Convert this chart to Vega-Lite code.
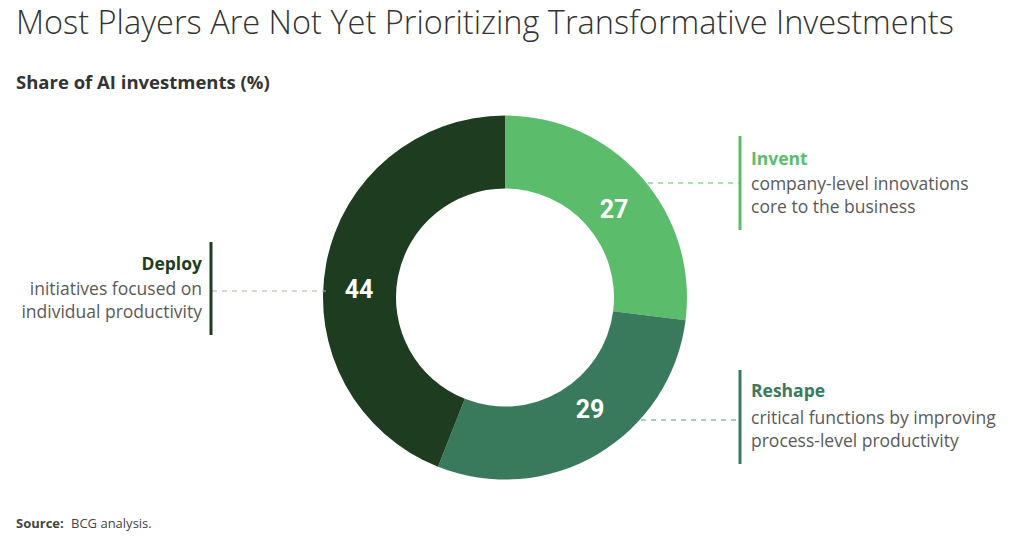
{
  "$schema": "https://vega.github.io/schema/vega-lite/v6.json",
  "width": 1024,
  "height": 559,
  "autosize": {"type": "fit", "contains": "padding"},
  "padding": 0,
  "background": "white",
  "config": {"view": {"stroke": null}, "text": {"font": "Open Sans"}},
  "datasets": {
    "segments": [
      {"segment": "Invent", "value": 27, "idx": 1, "desc": "company-level innovations\ncore to the business"},
      {"segment": "Reshape", "value": 29, "idx": 2, "desc": "critical functions by improving\nprocess-level productivity"},
      {"segment": "Deploy", "value": 44, "idx": 3, "desc": "initiatives focused on\nindividual productivity"}
    ],
    "heading": [
      {"title": "Most Players Are Not Yet Prioritizing Transformative Investments", "subtitle": "Share of AI investments (%)", "sourceLabel": "Source:", "source": "BCG analysis."}
    ]
  },
  "layer": [
    {
      "data": {"name": "segments"},
      "mark": {"type": "arc", "outerRadius": 182, "innerRadius": 109},
      "encoding": {
        "theta": {"field": "value", "type": "quantitative", "stack": true},
        "order": {"field": "idx", "type": "quantitative"},
        "color": {"field": "segment", "type": "nominal", "scale": {"domain": ["Invent", "Reshape", "Deploy"], "range": ["#5bbd6b", "#3a7a5c", "#1e3d20"]}, "legend": null},
        "x": {"datum": 505, "scale": {"domain": [0, 1024], "nice": false, "zero": false}, "axis": null},
        "y": {"datum": 297.5, "scale": {"domain": [559, 0], "nice": false, "zero": false}, "axis": null}
      }
    },
    {
      "data": {"name": "segments"},
      "transform": [{"filter": "datum.segment === 'Invent'"}],
      "layer": [
        {
          "mark": {"type": "text", "font": "Roboto", "fontSize": 25, "fontWeight": "bold", "color": "white", "baseline": "middle", "align": "center"},
          "encoding": {"text": {"field": "value", "type": "quantitative"}, "x": {"datum": 614}, "y": {"datum": 210}}
        },
        {
          "mark": {"type": "rule", "strokeWidth": 3, "color": "#5bbd6b"},
          "encoding": {"x": {"datum": 740}, "y": {"datum": 136}, "y2": {"datum": 230}}
        },
        {
          "mark": {"type": "rule", "strokeWidth": 1, "strokeDash": [5, 5], "color": "#5bbd6b"},
          "encoding": {"x": {"datum": 648}, "x2": {"datum": 739}, "y": {"datum": 183}}
        },
        {
          "mark": {"type": "text", "align": "left", "baseline": "alphabetic", "fontSize": 17.5, "fontWeight": "bold", "color": "#5bbd6b"},
          "encoding": {"text": {"field": "segment", "type": "nominal"}, "x": {"datum": 751}, "y": {"datum": 165}}
        },
        {
          "mark": {"type": "text", "align": "left", "baseline": "alphabetic", "fontSize": 17.5, "color": "#5a5a5a", "lineBreak": "\n", "lineHeight": 23},
          "encoding": {"text": {"field": "desc", "type": "nominal"}, "x": {"datum": 751}, "y": {"datum": 190}}
        }
      ]
    },
    {
      "data": {"name": "segments"},
      "transform": [{"filter": "datum.segment === 'Reshape'"}],
      "layer": [
        {
          "mark": {"type": "text", "font": "Roboto", "fontSize": 25, "fontWeight": "bold", "color": "white", "baseline": "middle", "align": "center"},
          "encoding": {"text": {"field": "value", "type": "quantitative"}, "x": {"datum": 590}, "y": {"datum": 410}}
        },
        {
          "mark": {"type": "rule", "strokeWidth": 3, "color": "#3a7a5c"},
          "encoding": {"x": {"datum": 740}, "y": {"datum": 370}, "y2": {"datum": 464}}
        },
        {
          "mark": {"type": "rule", "strokeWidth": 1, "strokeDash": [5, 5], "color": "#5a9a7a"},
          "encoding": {"x": {"datum": 641}, "x2": {"datum": 739}, "y": {"datum": 420}}
        },
        {
          "mark": {"type": "text", "align": "left", "baseline": "alphabetic", "fontSize": 17.5, "fontWeight": "bold", "color": "#3a7a5c"},
          "encoding": {"text": {"field": "segment", "type": "nominal"}, "x": {"datum": 751}, "y": {"datum": 397}}
        },
        {
          "mark": {"type": "text", "align": "left", "baseline": "alphabetic", "fontSize": 17.5, "color": "#5a5a5a", "lineBreak": "\n", "lineHeight": 23},
          "encoding": {"text": {"field": "desc", "type": "nominal"}, "x": {"datum": 751}, "y": {"datum": 424}}
        }
      ]
    },
    {
      "data": {"name": "segments"},
      "transform": [{"filter": "datum.segment === 'Deploy'"}],
      "layer": [
        {
          "mark": {"type": "rule", "strokeWidth": 1, "strokeDash": [5, 5], "color": "#b5aca4"},
          "encoding": {"x": {"datum": 212}, "x2": {"datum": 326}, "y": {"datum": 291}}
        },
        {
          "mark": {"type": "text", "font": "Roboto", "fontSize": 25, "fontWeight": "bold", "color": "white", "baseline": "middle", "align": "center"},
          "encoding": {"text": {"field": "value", "type": "quantitative"}, "x": {"datum": 359}, "y": {"datum": 290}}
        },
        {
          "mark": {"type": "rule", "strokeWidth": 3, "color": "#1e3d20"},
          "encoding": {"x": {"datum": 211}, "y": {"datum": 242}, "y2": {"datum": 335}}
        },
        {
          "mark": {"type": "text", "align": "right", "baseline": "alphabetic", "fontSize": 17.5, "fontWeight": "bold", "color": "#1e3d20"},
          "encoding": {"text": {"field": "segment", "type": "nominal"}, "x": {"datum": 202}, "y": {"datum": 270}}
        },
        {
          "mark": {"type": "text", "align": "right", "baseline": "alphabetic", "fontSize": 17.5, "color": "#5a5a5a", "lineBreak": "\n", "lineHeight": 23},
          "encoding": {"text": {"field": "desc", "type": "nominal"}, "x": {"datum": 202}, "y": {"datum": 295}}
        }
      ]
    },
    {
      "data": {"name": "heading"},
      "layer": [
        {
          "mark": {"type": "text", "align": "left", "baseline": "alphabetic", "fontSize": 32.5, "fontWeight": 300, "color": "#333333"},
          "encoding": {"text": {"field": "title", "type": "nominal"}, "x": {"datum": 16}, "y": {"datum": 34}}
        },
        {
          "mark": {"type": "text", "align": "left", "baseline": "alphabetic", "fontSize": 18.5, "fontWeight": "bold", "color": "#333333"},
          "encoding": {"text": {"field": "subtitle", "type": "nominal"}, "x": {"datum": 16}, "y": {"datum": 89}}
        },
        {
          "mark": {"type": "text", "align": "left", "baseline": "alphabetic", "fontSize": 13, "fontWeight": "bold", "color": "#444444"},
          "encoding": {"text": {"field": "sourceLabel", "type": "nominal"}, "x": {"datum": 16}, "y": {"datum": 528}}
        },
        {
          "mark": {"type": "text", "align": "left", "baseline": "alphabetic", "fontSize": 13, "color": "#444444"},
          "encoding": {"text": {"field": "source", "type": "nominal"}, "x": {"datum": 71}, "y": {"datum": 528}}
        }
      ]
    }
  ]
}
